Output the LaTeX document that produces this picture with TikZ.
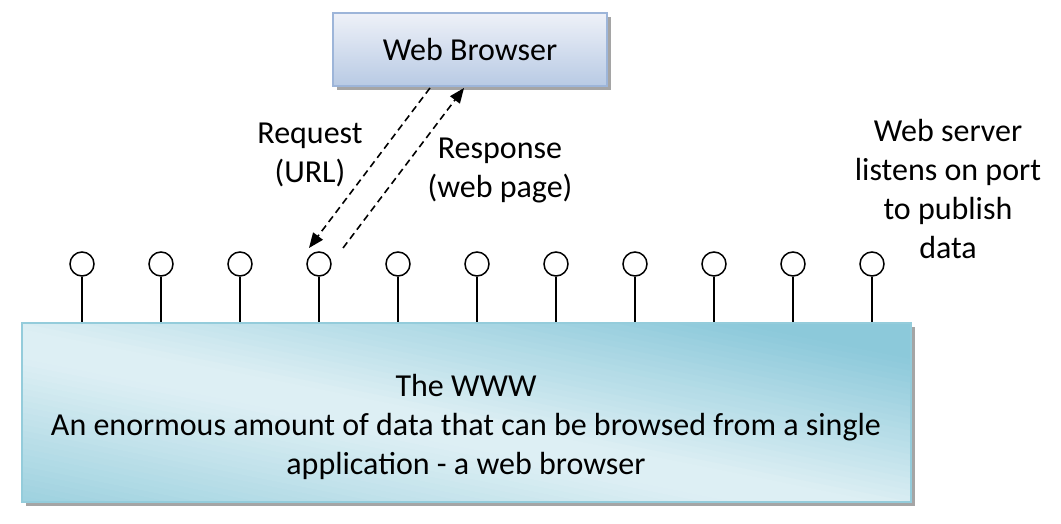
\documentclass[tikz,border=0pt]{standalone}
\usepackage{fontspec}
\setmainfont{Carlito}
\usetikzlibrary{arrows.meta,shadows,calc}
\definecolor{bbord}{HTML}{9DB5D9}
\definecolor{btop}{HTML}{EEF1F8}
\definecolor{bbot}{HTML}{B8CAE4}
\definecolor{wbord}{HTML}{94CCDB}
\definecolor{wdark}{HTML}{8CC9DA}
\definecolor{wbl}{HTML}{9DD1DF}
\definecolor{wlight}{HTML}{DDEFF4}
\definecolor{shad}{HTML}{8E8E8E}
\begin{document}
\begin{tikzpicture}[x=1pt,y=-1pt,
  txt/.style={font=\fontsize{32}{39}\selectfont, align=center, inner sep=0pt},
  browser/.style={draw=bbord, line width=1.8pt, top color=btop, bottom color=bbot,
    minimum width=274pt, minimum height=73pt, inner sep=0pt,
    drop shadow={shadow xshift=4pt, shadow yshift=-4pt, fill=shad, opacity=0.8}},
  wwwbox/.style={draw=wbord, line width=2pt, fill=wlight,
    minimum width=889pt, minimum height=179pt, inner sep=0pt,
    drop shadow={shadow xshift=4pt, shadow yshift=-4pt, fill=shad, opacity=0.8},
    path picture={
      \foreach \k in {0,...,59}{
        \pgfmathsetmacro\ga{-1+2*\k/60}
        \pgfmathsetmacro\gb{\ga+2/60+0.012}
        \pgfmathsetmacro\gm{\ga+1/60}
        \pgfmathtruncatemacro\pd{max(0,min(100,(\gm+0.05)/0.85*100))}
        \pgfmathtruncatemacro\pl{max(0,min(100,(-\gm-0.2)/0.8*100))}
        \colorlet{stripc}{wdark!\pd!wlight}
        \colorlet{stripc}{wbl!\pl!stripc}
        \fill[stripc]
          ($(path picture bounding box.center)+({(2*\ga+3)*444.5pt},{-3*89.5pt})$) --
          ($(path picture bounding box.center)+({(2*\ga-3)*444.5pt},{3*89.5pt})$) --
          ($(path picture bounding box.center)+({(2*\gb-3)*444.5pt},{3*89.5pt})$) --
          ($(path picture bounding box.center)+({(2*\gb+3)*444.5pt},{-3*89.5pt})$) -- cycle;
      }
    }},
  port/.style={circle, draw=black, line width=1.5pt, fill=white, minimum size=24pt, inner sep=0pt},
  stem/.style={line width=1.5pt},
  msg/.style={dashed, dash pattern=on 7pt off 4.5pt, line width=1.6pt, -{Triangle[length=15pt,width=12pt]}}
]
\useasboundingbox (0,0) rectangle (1061,524);
\node[browser, txt] (browser) at (470,49.5) {Web Browser};
\node[wwwbox] (www) at (466.5,412.5) {};
\node[txt] (wwwtext) at (466,427) {The WWW\\An enormous amount of data that can be browsed from a single\\application - a web browser};
\foreach \i in {0,...,10} {
  \node[port] (p\i) at (82+79*\i,264) {};
  \draw[stem] (p\i.south) -- (p\i.south |- www.north);
}
\coordinate (rqa) at (430,88);
\coordinate (rqb) at (309,248);
\coordinate (rsa) at (343,248);
\coordinate (rsb) at (464,88);
\draw[msg] (rqa) -- (rqb);
\draw[msg] (rsa) -- (rsb);
\node[txt] (reqlbl) at (310,155) {Request\\(URL)};
\node[txt] (reslbl) at (500,170) {Response\\(web page)};
\node[txt] (srvlbl) at (948,189) {Web server\\listens on port\\to publish\\data};
\end{tikzpicture}
\end{document}
